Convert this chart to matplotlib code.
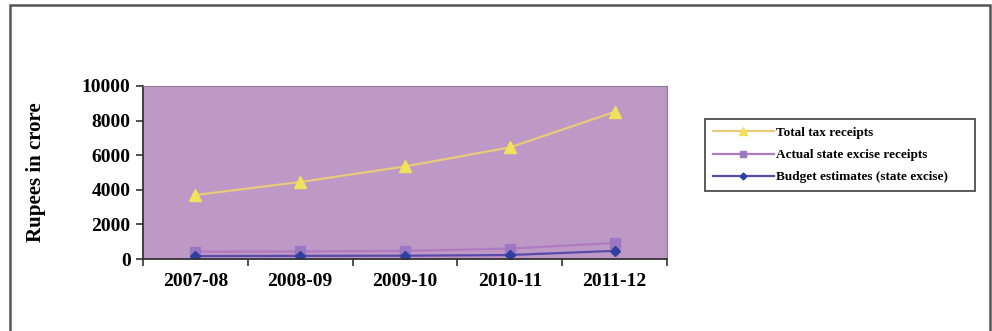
import matplotlib.pyplot as plt
from matplotlib.patches import Rectangle

# State revenue figures, rupees in crore
years = ["2007-08", "2008-09", "2009-10", "2010-11", "2011-12"]
total_tax = [3700, 4450, 5350, 6450, 8500]
actual_excise = [420, 440, 470, 600, 930]
budget_excise = [170, 180, 190, 230, 470]

plt.rcParams['font.family'] = ['Liberation Serif', 'DejaVu Serif']
plt.rcParams['font.weight'] = 'bold'

fig = plt.figure(figsize=(9.92, 3.31), dpi=100)
fig.patch.set_facecolor('white')

# frame around the whole chart
fig.patches.append(Rectangle((10 / 992, -0.05), 980 / 992, 1.05 - 5 / 331,
                             transform=fig.transFigure, fill=False,
                             edgecolor='#555555', linewidth=1.8))

ax = fig.add_axes([143 / 992, 1 - 259 / 331, 524 / 992, 173 / 331])
ax.set_facecolor('#bf99c6')

x = list(range(len(years)))
ax.plot(x, total_tax, color='#e9c97a', linewidth=1.6, marker='^',
        markersize=8, markerfacecolor='#f2e25a', markeredgecolor='#f2e25a',
        label='Total tax receipts')
ax.plot(x, actual_excise, color='#b07ac0', linewidth=1.6, marker='s',
        markersize=7, markerfacecolor='#9a78c4', markeredgecolor='#9a78c4',
        label='Actual state excise receipts')
ax.plot(x, budget_excise, color='#5a4aa8', linewidth=1.6, marker='D',
        markersize=5, markerfacecolor='#3040a0', markeredgecolor='#3040a0',
        label='Budget estimates (state excise)')

ax.set_xlim(-0.5, len(years) - 0.5)
ax.set_ylim(0, 10000)
ax.set_yticks([0, 2000, 4000, 6000, 8000, 10000])
ax.set_xticks(x)
ax.set_xticklabels(years)
ax.set_xticks([i + 0.5 for i in range(-1, len(years))], minor=True)
ax.tick_params(axis='x', which='major', length=0, pad=10, labelsize=14)
ax.tick_params(axis='x', which='minor', length=5, width=1.2, color='#333333')
ax.tick_params(axis='y', length=5, width=1.2, color='#333333', labelsize=14, pad=4)
for lbl in ax.get_xticklabels() + ax.get_yticklabels():
    lbl.set_fontweight('bold')

ax.spines['left'].set_color('#333333')
ax.spines['bottom'].set_color('#333333')
ax.spines['left'].set_linewidth(1.3)
ax.spines['bottom'].set_linewidth(1.3)
ax.spines['top'].set_color('#8a7a90')
ax.spines['right'].set_color('#8a7a90')

ax.set_ylabel('Rupees in crore', fontsize=15, fontweight='bold', labelpad=26)

leg = ax.legend(loc='center left', bbox_to_anchor=(705 / 992, 1 - 190 / 331, 270 / 992, 70 / 331),
                bbox_transform=fig.transFigure, mode='expand', borderaxespad=0,
                fontsize=9.5, frameon=True, fancybox=False, edgecolor='#222222',
                borderpad=0.6, labelspacing=0.75, handlelength=4.6, handletextpad=0.2,
                markerscale=0.7)
leg.get_frame().set_linewidth(1.3)
for t in leg.get_texts():
    t.set_fontweight('bold')

fig.savefig('out.png', dpi=100)
